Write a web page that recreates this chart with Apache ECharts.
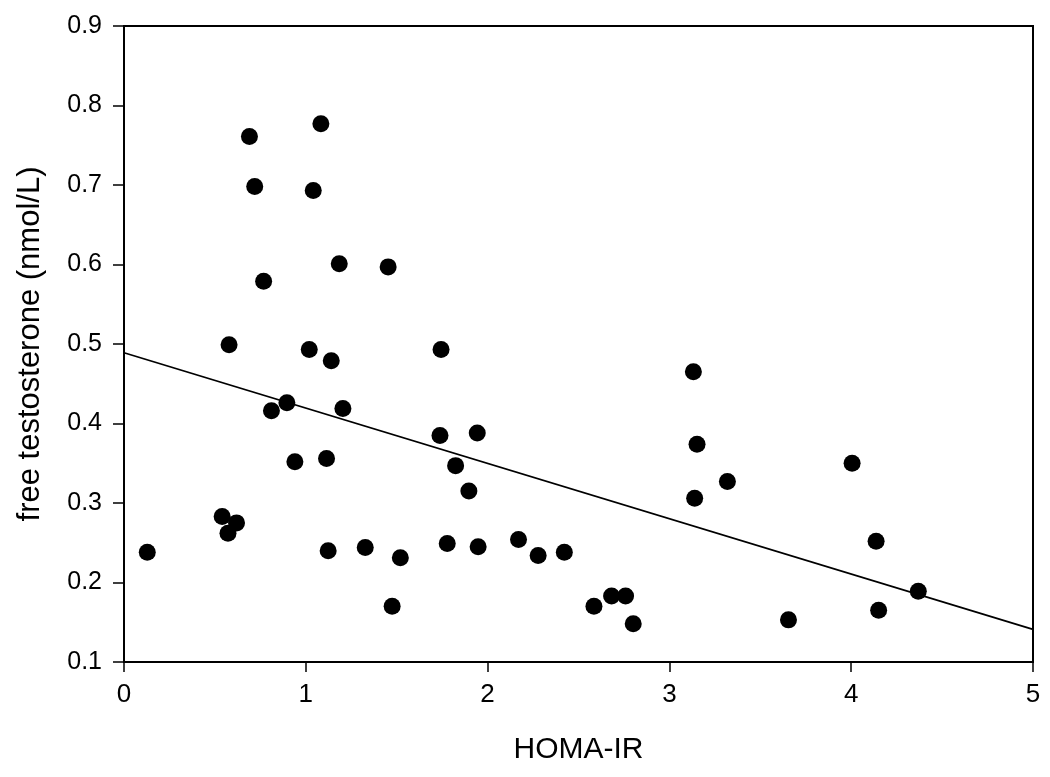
<!DOCTYPE html>
<html>
<head>
<meta charset="utf-8">
<script src="https://cdn.jsdelivr.net/npm/echarts@6/dist/echarts.min.js"></script>
<style>
  html, body { margin: 0; padding: 0; background: #fff; }
  #chart { width: 1050px; height: 777px; }
</style>
</head>
<body>
<div id="chart"></div>
<script>
// HOMA-IR values (x) and free testosterone (y)
const homaIR = [
  0.690, 1.083, 0.719, 1.041, 1.184, 1.453, 0.768, 0.578, 1.019, 1.140,
  0.896, 0.811, 1.204, 0.940, 1.114, 0.128, 0.540, 0.619, 0.572, 1.123,
  1.327, 1.520, 1.475, 1.744, 3.132, 1.738, 1.943, 3.152, 1.824, 1.897,
  3.319, 3.139, 1.778, 1.948, 2.170, 2.278, 2.422, 2.585, 2.682, 2.759,
  2.801, 4.005, 4.137, 4.369, 4.151, 3.655
]
const freeT = [
  0.761, 0.777, 0.698, 0.693, 0.601, 0.597, 0.579, 0.499, 0.493, 0.479,
  0.426, 0.416, 0.419, 0.352, 0.356, 0.238, 0.283, 0.275, 0.262, 0.240,
  0.244, 0.231, 0.170, 0.493, 0.465, 0.385, 0.388, 0.374, 0.347, 0.315,
  0.327, 0.306, 0.249, 0.245, 0.254, 0.234, 0.238, 0.170, 0.183, 0.183,
  0.148, 0.350, 0.252, 0.189, 0.165, 0.153
]

// fitted regression line end points
const fitX = [0, 5]
const fitY = [0.489, 0.141]

const xTicks = [0, 1, 2, 3, 4, 5]
const yTicks = [0.1, 0.2, 0.3, 0.4, 0.5, 0.6, 0.7, 0.8, 0.9]

const points = homaIR.map((x, i) => [x, freeT[i]])
const fitLine = fitX.map((x, i) => [x, fitY[i]])

const FONT = 'Liberation Sans, Arial, sans-serif'

const myChart = echarts.init(document.getElementById('chart'))

const option = {
  animation: false,
  backgroundColor: '#ffffff',
  grid: {
    left: 124,
    right: 17,
    top: 26,
    bottom: 115,
    show: true,
    borderColor: '#000',
    borderWidth: 2
  },
  xAxis: {
    type: 'value',
    min: xTicks[0],
    max: xTicks[xTicks.length - 1],
    interval: 1,
    name: 'HOMA-IR',
    nameLocation: 'middle',
    nameGap: 73,
    nameTextStyle: { color: '#000', fontSize: 30, fontFamily: FONT },
    axisLine: { show: true, lineStyle: { color: '#000', width: 2 } },
    axisTick: { show: true, inside: false, length: 10, lineStyle: { color: '#000', width: 1.5 } },
    axisLabel: { color: '#000', fontSize: 26, fontFamily: FONT, margin: 20 },
    splitLine: { show: false }
  },
  yAxis: {
    type: 'value',
    min: yTicks[0],
    max: yTicks[yTicks.length - 1],
    interval: 0.1,
    name: 'free testosterone (nmol/L)',
    nameLocation: 'middle',
    nameGap: 78,
    nameTextStyle: { color: '#000', fontSize: 31, fontFamily: FONT },
    axisLine: { show: true, lineStyle: { color: '#000', width: 2 } },
    axisTick: { show: true, inside: false, length: 11, lineStyle: { color: '#000', width: 1.5 } },
    axisLabel: {
      color: '#000',
      fontSize: 25,
      fontFamily: FONT,
      margin: 22,
      formatter: v => v.toFixed(1)
    },
    splitLine: { show: false }
  },
  series: [
    {
      name: 'fit',
      type: 'line',
      data: fitLine,
      symbol: 'none',
      lineStyle: { color: '#000', width: 1.8 },
      z: 2
    },
    {
      name: 'data',
      type: 'scatter',
      data: points,
      symbol: 'circle',
      symbolSize: 17,
      itemStyle: { color: '#000', opacity: 1 },
      z: 3
    }
  ]
}

myChart.setOption(option)
</script>
</body>
</html>
